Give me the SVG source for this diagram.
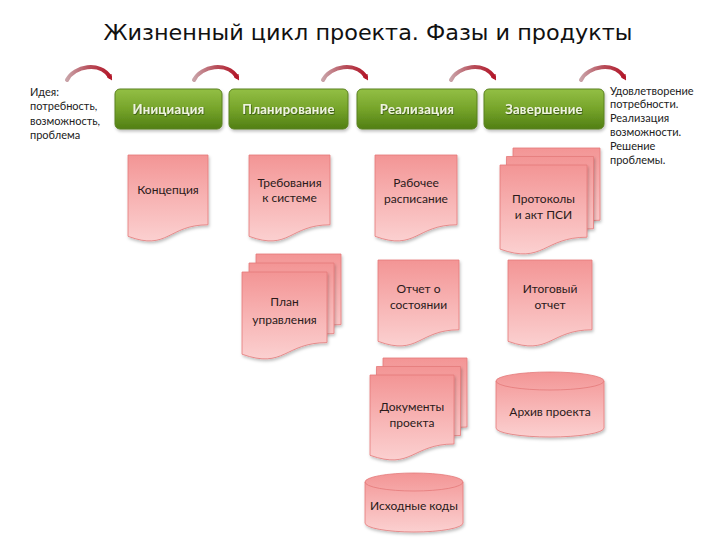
<svg xmlns="http://www.w3.org/2000/svg" width="720" height="540" viewBox="0 0 720 540">
<defs>
<linearGradient id="gGreen" x1="0" y1="0" x2="0" y2="1">
<stop offset="0" stop-color="#93bf45"/>
<stop offset="0.5" stop-color="#76a42a"/>
<stop offset="1" stop-color="#517f14"/>
</linearGradient>
<linearGradient id="gPink" x1="0" y1="0" x2="0" y2="1">
<stop offset="0" stop-color="#f39595"/>
<stop offset="0.6" stop-color="#f8b9b9"/>
<stop offset="1" stop-color="#fbd0d0"/>
</linearGradient>
<linearGradient id="gArc" x1="0" y1="0" x2="1" y2="0">
<stop offset="0" stop-color="#c9a3a8"/>
<stop offset="0.5" stop-color="#b8505c"/>
<stop offset="1" stop-color="#b3192b"/>
</linearGradient>
<filter id="shadow" x="-10%" y="-10%" width="130%" height="130%">
<feDropShadow dx="1" dy="2" stdDeviation="1.5" flood-color="#000" flood-opacity="0.25"/>
</filter>
<filter id="tshadow" x="-10%" y="-30%" width="120%" height="160%">
<feDropShadow dx="0.6" dy="0.8" stdDeviation="0.4" flood-color="#2c4208" flood-opacity="0.9"/>
</filter>
<marker id="ah" markerWidth="6" markerHeight="6" refX="2" refY="3" orient="auto" markerUnits="userSpaceOnUse">
<path d="M0,0 L6,3 L0,6 Z" fill="#b3192b"/>
</marker>
<path id="arc" d="M0,15 C7,1 33,-4 43,12"/>
</defs>
<style>
.title{font-family:"DejaVu Sans",sans-serif;font-size:21px;fill:#111}
.side{font-family:Lato,"Liberation Sans",sans-serif;font-size:11px;fill:#222}
.phase rect{fill:url(#gGreen);stroke:#5b8120;stroke-width:1;filter:url(#shadow)}
.phase text{font-family:Lato,"Liberation Sans",sans-serif;font-size:13px;font-weight:bold;fill:#eef4dc;text-anchor:middle;filter:url(#tshadow);letter-spacing:0.3px}
.doc path,.db path{fill:url(#gPink);stroke:#e47a7a;stroke-width:0.8;filter:url(#shadow)}
.db path.rim{fill:none;filter:none}
.doc text,.db text{font-family:Lato,"Liberation Sans",sans-serif;font-size:12px;fill:#2a1a1a;text-anchor:middle}
.arcs use{fill:none;stroke:url(#gArc);stroke-width:4;stroke-linecap:round;marker-end:url(#ah)}
</style>
<rect width="720" height="540" fill="#fff"/>
<text class="title" x="368" y="40" text-anchor="middle" textLength="529" lengthAdjust="spacingAndGlyphs">Жизненный цикл проекта. Фазы и продукты</text>

<g id="idea-text" class="side">
<text x="30" y="96">Идея:</text>
<text x="30" y="110">потребность,</text>
<text x="30" y="125">возможность,</text>
<text x="30" y="139">проблема</text>
</g>
<g id="result-text" class="side">
<text x="610" y="95">Удовлетворение</text>
<text x="610" y="108">потребности.</text>
<text x="610" y="122">Реализация</text>
<text x="610" y="136">возможности.</text>
<text x="610" y="150">Решение</text>
<text x="610" y="164">проблемы.</text>
</g>

<g id="connectors" class="arcs">
<use href="#arc" x="67" y="65"/>
<use href="#arc" x="194" y="65"/>
<use href="#arc" x="323" y="65"/>
<use href="#arc" x="451" y="65"/>
<use href="#arc" x="581" y="65"/>
</g>

<g id="phase-init" class="phase">
<rect x="115" y="89" width="107" height="40" rx="5"/>
<text x="168.5" y="114">Инициация</text>
</g>
<g id="phase-plan" class="phase">
<rect x="229" y="89" width="119" height="40" rx="5"/>
<text x="288.5" y="114">Планирование</text>
</g>
<g id="phase-real" class="phase">
<rect x="357" y="89" width="120" height="40" rx="5"/>
<text x="417" y="114">Реализация</text>
</g>
<g id="phase-end" class="phase">
<rect x="484" y="89" width="120" height="40" rx="5"/>
<text x="544" y="114">Завершение</text>
</g>

<g id="doc-concept" class="doc">
<path d="M128,155 H208 V224.8 C168,224.8 168,251.4 128,236.3 Z"/>
<text x="168" y="194">Концепция</text>
</g>
<g id="doc-req" class="doc">
<path d="M249,155 H330 V224.8 C289.5,224.8 289.5,251.4 249,236.3 Z"/>
<text x="289.5" y="187">Требования</text>
<text x="289.5" y="202">к системе</text>
</g>
<g id="doc-schedule" class="doc">
<path d="M375,155 H457 V224.8 C416,224.8 416,251.4 375,236.3 Z"/>
<text x="416" y="187">Рабочее</text>
<text x="416" y="203">расписание</text>
</g>
<g id="doc-protocols" class="doc">
<path d="M513,148 H600 V220.2 C556.5,220.2 556.5,247.7 513,232.1 Z"/>
<path d="M506.5,156.5 H593.5 V228.7 C550,228.7 550,256.2 506.5,240.6 Z"/>
<path d="M500,165 H587 V237.2 C543.5,237.2 543.5,264.7 500,249.1 Z"/>
<text x="543.5" y="203">Протоколы</text>
<text x="543.5" y="219">и акт ПСИ</text>
</g>
<g id="doc-plan" class="doc">
<path d="M256,254 H341 V324.6 C298.5,324.6 298.5,351.5 256,336.2 Z"/>
<path d="M249,263 H334 V333.6 C291.5,333.6 291.5,360.5 249,345.2 Z"/>
<path d="M242,272 H327 V342.6 C284.5,342.6 284.5,369.5 242,354.2 Z"/>
<text x="284.5" y="306">План</text>
<text x="284.5" y="324">управления</text>
</g>
<g id="doc-status" class="doc">
<path d="M378,260 H459 V329.8 C418.5,329.8 418.5,356.4 378,341.3 Z"/>
<text x="418.5" y="293">Отчет о</text>
<text x="418.5" y="309">состоянии</text>
</g>
<g id="doc-final" class="doc">
<path d="M508,260 H592 V329.8 C550,329.8 550,356.4 508,341.3 Z"/>
<text x="550" y="293">Итоговый</text>
<text x="550" y="309">отчет</text>
</g>
<g id="doc-docs" class="doc">
<path d="M383,358 H467 V427 C425,427 425,453.3 383,438.3 Z"/>
<path d="M376.5,366.5 H460.5 V435.5 C418.5,435.5 418.5,461.8 376.5,446.8 Z"/>
<path d="M370,375 H454 V444 C412,444 412,470.3 370,455.3 Z"/>
<text x="412" y="411">Документы</text>
<text x="412" y="427">проекта</text>
</g>
<g id="db-archive" class="db">
<path d="M496,381 A54,9 0 0 1 604,381 V428 A54,9 0 0 1 496,428 Z"/>
<path class="rim" d="M496,381 A54,9 0 0 0 604,381"/>
<text x="550" y="416">Архив проекта</text>
</g>
<g id="db-source" class="db">
<path d="M365,482 A49,9 0 0 1 463,482 V523 A49,9 0 0 1 365,523 Z"/>
<path class="rim" d="M365,482 A49,9 0 0 0 463,482"/>
<text x="414" y="510">Исходные коды</text>
</g>
</svg>
